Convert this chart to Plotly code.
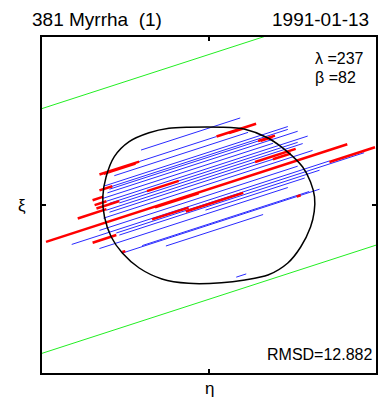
import plotly.graph_objects as go

# ---------------- data (km in the sky plane) ----------------
slope = 0.322  # chord direction (dy/dx)

# positive chords: intercept, start, end
blue_offset = [45.8, 39.3, 35.7, 31.5, 29.8, 28.6, 26.8, 24.4, 22.0, 20.2, 18.5, 16.7,
               14.9, 12.5, 6.0, 3.0, 1.2, -0.6, -2.4, -4.8, -11.9, -11.3, -16.1, -48.2]
blue_start = [-40.7, -41.8, -56.7, -62.6, -58.5, -59.6, -60.8, -63.8, -61.4, -59.6, -53.7, -61.4,
              -59.6, -63.2, -65.6, -82.2, -55.5, -53.7, -2.1, -65.6, -51.9, -40.0, -25.8, 16.3]
blue_end = [18.7, 4.5, 23.4, 47.2, 47.2, 39.5, 53.1, 38.3, 59.1, 53.1, 56.1, 27.6,
            38.3, 62.0, 53.1, 72.1, 92.9, 66.2, 57.3, 47.2, 66.2, 60.0, 32.4, 22.3]

# timing uncertainty segments
red_offset = [39.3, 38.8, 39.3, 38.9, 29.8, 28.6, 28.2, 25.3, 22.0, 20.2, 19.6, 17.3,
              16.7, 14.9, 9.5, 9.0, 2.4, 2.4, 0.6, 0.0, -11.9, -11.3]
red_start = [-65.6, -63.0, 4.5, 12.0, -65.6, 29.4, 31.0, -69.7, -68.5, -37.1, -67.4, -78.6,
             27.6, 38.3, -97.6, -32.3, -34.1, 72.1, -13.9, -69.7, 52.5, -51.9]
red_end = [-41.8, -44.0, 28.2, 20.0, -57.9, 39.5, 38.0, -63.2, -61.4, -18.1, -53.7, -61.4,
           51.9, 49.0, 82.8, -6.2, -12.2, 99.4, 20.5, -55.5, 54.9, -50.1]

# negative chords
green_offset = [89.6, -56.1]

# fitted profile
outline_x = [-12.2, 7.4, 21.5, 35.3, 47.2, 56.1, 60.8, 63.2, 63.0, 60.8, 54.9, 47.2, 35.3,
             21.5, 7.4, -12.2, -28.2, -41.8, -51.9, -58.6, -62.6, -63.6, -61.6, -56.7,
             -47.8, -35.9, -24.0, -12.2]
outline_y = [46.3, 46.3, 45.1, 39.9, 31.5, 22.6, 13.7, 4.8, -4.0, -13.1, -25.0, -34.5, -41.7,
             -44.6, -46.3, -46.6, -44.0, -37.5, -28.6, -18.9, -7.0, 4.9, 16.8, 28.8,
             37.7, 43.0, 45.7, 46.3]

title_left = "381 Myrrha \u00a0(1)"
title_right = "1991-01-13"
lam, bet, rmsd = 237, 82, 12.882


def segs(offsets, starts, ends):
    xs, ys = [], []
    for b, a, e in zip(offsets, starts, ends):
        xs += [a, e, None]
        ys += [slope * a + b, slope * e + b, None]
    return xs, ys


fig = go.Figure()

gx, gy = segs(green_offset, [-100] * len(green_offset), [100] * len(green_offset))
fig.add_trace(go.Scatter(x=gx, y=gy, mode="lines", line=dict(color="#22ee22", width=1),
                         hoverinfo="skip"))

bx, by = segs(blue_offset, blue_start, blue_end)
fig.add_trace(go.Scatter(x=bx, y=by, mode="lines", line=dict(color="#2a2aff", width=1),
                         hoverinfo="skip"))

rx, ry = segs(red_offset, red_start, red_end)
fig.add_trace(go.Scatter(x=rx, y=ry, mode="lines", line=dict(color="#ff0000", width=2.5),
                         hoverinfo="skip"))

fig.add_trace(go.Scatter(x=outline_x, y=outline_y, mode="lines",
                         line=dict(color="black", width=1.5, shape="spline", smoothing=0.8),
                         hoverinfo="skip"))

font = "Liberation Sans, Arial, sans-serif"
ax = dict(range=[-100, 100], showgrid=False, zeroline=False, showline=True,
          linecolor="black", linewidth=2, mirror="ticks", ticks="inside", ticklen=4,
          tickwidth=1.5, tickcolor="black", tickvals=[0], showticklabels=False, fixedrange=True)

fig.update_layout(
    width=380, height=403,
    margin=dict(l=42, r=2, t=37, b=30),
    paper_bgcolor="white", plot_bgcolor="white",
    showlegend=False,
    xaxis=ax, yaxis=ax,
    font=dict(family=font, color="black"),
)

ann = [
    dict(text=title_left, x=-0.036, y=1.052, xanchor="left", yanchor="middle", size=19),
    dict(text=title_right, x=0.985, y=1.052, xanchor="right", yanchor="middle", size=19),
    dict(text=f"\u03bb =%d" % lam, x=0.8125, y=0.9375, xanchor="left", yanchor="middle", size=16),
    dict(text=f"\u03b2 =%d" % bet, x=0.8125, y=0.878, xanchor="left", yanchor="middle", size=16),
    dict(text=f"RMSD={rmsd}", x=0.995, y=0.0536, xanchor="right", yanchor="middle", size=16),
    dict(text="\u03be", x=-0.06, y=0.5, xanchor="center", yanchor="middle", size=17),
    dict(text="\u03b7", x=0.5, y=-0.045, xanchor="center", yanchor="middle", size=17),
]
for a in ann:
    fig.add_annotation(text=a["text"], x=a["x"], y=a["y"], xref="paper", yref="paper",
                       xanchor=a["xanchor"], yanchor=a["yanchor"], showarrow=False,
                       font=dict(size=a["size"], family=font, color="black"))

fig.write_html("out.html", config={"displayModeBar": False},
               post_script="document.body.style.margin='0';document.body.style.overflow='hidden';")
